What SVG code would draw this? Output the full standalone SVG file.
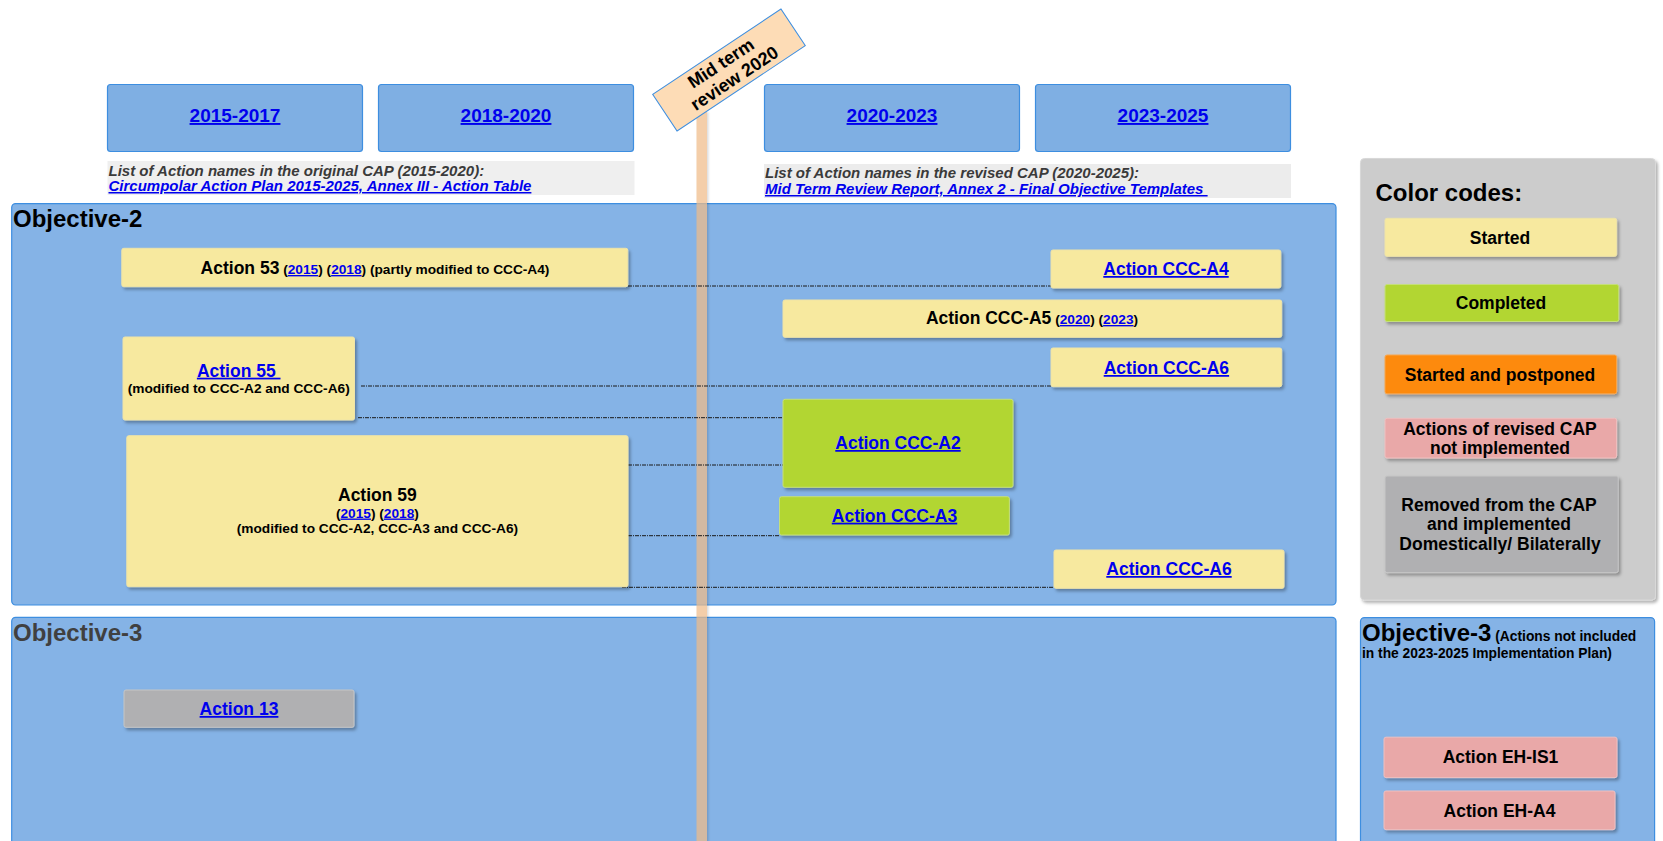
<svg xmlns="http://www.w3.org/2000/svg" width="1663" height="841" viewBox="0 0 1663 841">
<defs>
<filter id="sh" x="-10%" y="-20%" width="120%" height="150%"><feDropShadow dx="2" dy="2.5" stdDeviation="1.5" flood-color="#000" flood-opacity="0.3"/></filter>
<filter id="psh" x="-50%" y="-5%" width="200%" height="110%"><feDropShadow dx="1.5" dy="0" stdDeviation="1" flood-color="#000" flood-opacity="0.2"/></filter>
<style>
text{font-family:"Liberation Sans",Arial,sans-serif;font-weight:bold;}
.obj{fill:#85b3e6;stroke:#3d8ee0;stroke-width:1.2;}
.hdr{fill:#7fafe3;stroke:#3d8ee0;stroke-width:1.2;}
.y{fill:#f7e99f;stroke:#efe4a8;stroke-width:1;filter:url(#sh);}
.g{fill:#b2d633;stroke:#c5df7a;stroke-width:1;filter:url(#sh);}
.gr{fill:#b0b0b2;stroke:#c6c6c6;stroke-width:1;filter:url(#sh);}
.pk{fill:#e9a8a8;stroke:#efc0c0;stroke-width:1;filter:url(#sh);}
.or{fill:#fd8a0c;stroke:#f7a650;stroke-width:1;filter:url(#sh);}
.big{font-size:17.5px;fill:#000;}
.sm{font-size:13.7px;fill:#000;}
.c{text-anchor:middle;}
.sub{font-size:15px;font-style:italic;}
text.lnk,tspan.lnk{fill:#0000ee;text-decoration:underline;}
.conn line{stroke:#1a1a1a;stroke-width:1;stroke-dasharray:4 1 1 1;}
</style>
</defs>

<!-- header boxes -->
<g id="h2015"><rect class="hdr" x="107.5" y="84.5" width="255" height="67" rx="3"/><text class="lnk c" x="235" y="122" font-size="19">2015-2017</text></g>
<g id="h2018"><rect class="hdr" x="378.5" y="84.5" width="255" height="67" rx="3"/><text class="lnk c" x="506" y="122" font-size="19">2018-2020</text></g>
<g id="h2020"><rect class="hdr" x="764.5" y="84.5" width="255" height="67" rx="3"/><text class="lnk c" x="892" y="122" font-size="19">2020-2023</text></g>
<g id="h2023"><rect class="hdr" x="1035.5" y="84.5" width="255" height="67" rx="3"/><text class="lnk c" x="1163" y="122" font-size="19">2023-2025</text></g>

<!-- sub headers -->
<g id="subL"><rect x="107.5" y="161" width="527" height="34" fill="#efefef"/>
<text class="sub" x="108.5" y="175.5" fill="#3a3a3a">List of Action names in the original CAP (2015-2020):</text>
<text class="sub lnk" x="108.5" y="191">Circumpolar Action Plan 2015-2025, Annex III - Action Table</text></g>
<g id="subR"><rect x="764" y="164" width="527" height="34" fill="#ececec"/>
<text class="sub" x="765" y="178" fill="#3a3a3a">List of Action names in the revised CAP (2020-2025):</text>
<text class="sub lnk" x="765" y="194" xml:space="preserve">Mid Term Review Report, Annex 2 - Final Objective Templates </text></g>

<!-- objective panels -->
<g id="obj2"><rect class="obj" x="11.7" y="203.6" width="1324.3" height="401.4" rx="4"/><text x="13" y="227" font-size="24" fill="#000">Objective-2</text></g>
<g id="obj3"><rect class="obj" x="11.7" y="617.3" width="1324.3" height="240" rx="4"/><text x="13" y="641" font-size="24" fill="#404040">Objective-3</text></g>

<!-- legend -->
<g id="legend"><rect x="1360.5" y="158.5" width="295" height="441.5" rx="4" fill="#cccccc" stroke="#d8d8d8" filter="url(#sh)"/>
<text x="1375.5" y="200.5" font-size="24" fill="#000">Color codes:</text>
<rect class="y" x="1385" y="218.3" width="231.6" height="38" rx="2"/><text class="big c" x="1500" y="243.5">Started</text>
<rect class="g" x="1385" y="284.5" width="233.7" height="37" rx="2"/><text class="big c" x="1501" y="309">Completed</text>
<rect class="or" x="1385" y="355" width="231.6" height="38.8" rx="2"/><text class="big c" x="1500" y="381">Started and postponed</text>
<rect class="pk" x="1385" y="418.3" width="231.6" height="39.7" rx="2"/><text class="big c" x="1500" y="434.8">Actions of revised CAP</text><text class="big c" x="1500" y="453.6">not implemented</text>
<rect class="gr" x="1385" y="476" width="233.2" height="96.6" rx="2"/><text class="big c" x="1499" y="510.8">Removed from the CAP</text><text class="big c" x="1499" y="530">and implemented</text><text class="big c" x="1500" y="549.8">Domestically/ Bilaterally</text>
</g>

<g id="obj3r"><rect class="obj" x="1360.5" y="617.6" width="294.1" height="240" rx="4"/>
<text x="1362" y="640.5" font-size="24" fill="#000">Objective-3<tspan font-size="13.8"> (Actions not included</tspan></text>
<text x="1362" y="657.5" font-size="13.8" fill="#000">in the 2023-2025 Implementation Plan)</text></g>

<!-- pole -->
<g id="pole"><rect x="696.5" y="112" width="10.5" height="740" fill="#f0bc88" opacity="0.72" filter="url(#psh)"/></g>

<!-- connectors -->
<g class="conn" id="connectors">
<line x1="628" y1="286" x2="1051" y2="286"/>
<line x1="361" y1="386" x2="1051" y2="386"/>
<line x1="358" y1="417.7" x2="783" y2="417.7"/>
<line x1="628" y1="465" x2="783" y2="465"/>
<line x1="628" y1="535.7" x2="779.5" y2="535.7"/>
<line x1="622" y1="587.3" x2="1054" y2="587.3"/>
</g>

<!-- nodes -->
<g id="a53"><rect class="y" x="121.8" y="248.3" width="506" height="38.4" rx="2"/><text class="c" x="375" y="274"><tspan class="big">Action 53</tspan><tspan class="sm"> (<tspan class="lnk">2015</tspan>) (<tspan class="lnk">2018</tspan>) (partly modified to CCC-A4)</tspan></text></g>
<g id="ccca4"><rect class="y" x="1051" y="250" width="229.8" height="38" rx="2"/><text class="big lnk c" x="1166" y="275">Action CCC-A4</text></g>
<g id="ccca5"><rect class="y" x="783" y="300" width="498.7" height="37.3" rx="2"/><text class="c" x="1032" y="324"><tspan class="big">Action CCC-A5</tspan><tspan class="sm"> (<tspan class="lnk">2020</tspan>) (<tspan class="lnk">2023</tspan>)</tspan></text></g>
<g id="ccca6a"><rect class="y" x="1051" y="348" width="230.7" height="38.7" rx="2"/><text class="big lnk c" x="1166.4" y="374">Action CCC-A6</text></g>
<g id="a55"><rect class="y" x="123" y="337" width="231.5" height="83" rx="2"/><text class="big lnk c" x="238.7" y="376.7" xml:space="preserve">Action 55 </text><text class="sm c" x="238.7" y="393">(modified to CCC-A2 and CCC-A6)</text></g>
<g id="ccca2"><rect class="g" x="783" y="399.3" width="230" height="88" rx="2"/><text class="big lnk c" x="898" y="449">Action CCC-A2</text></g>
<g id="a59"><rect class="y" x="126.8" y="435.7" width="501.2" height="151" rx="2"/><text class="big c" x="377.4" y="501">Action 59</text><text class="sm c" x="377.4" y="517.5">(<tspan class="lnk">2015</tspan>) (<tspan class="lnk">2018</tspan>)</text><text class="sm c" x="377.4" y="533">(modified to CCC-A2, CCC-A3 and CCC-A6)</text></g>
<g id="ccca3"><rect class="g" x="779.5" y="496.7" width="229.9" height="38.3" rx="2"/><text class="big lnk c" x="894.5" y="521.7">Action CCC-A3</text></g>
<g id="ccca6b"><rect class="y" x="1054" y="550" width="230" height="38.3" rx="2"/><text class="big lnk c" x="1169" y="575">Action CCC-A6</text></g>
<g id="a13"><rect class="gr" x="124" y="690" width="230" height="37.3" rx="2"/><text class="big lnk c" x="239" y="715">Action 13</text></g>
<g id="ehis1"><rect class="pk" x="1384" y="737.2" width="233" height="40.4" rx="2"/><text class="big c" x="1500.5" y="763">Action EH-IS1</text></g>
<g id="eha4"><rect class="pk" x="1384" y="791" width="231" height="38.7" rx="2"/><text class="big c" x="1499.5" y="817">Action EH-A4</text></g>

<!-- mid-term sign -->
<g id="sign" transform="translate(729,70) rotate(-33.6)">
<rect x="-77" y="-22" width="154" height="44" fill="#fddcb6" stroke="#3d8ee0" stroke-width="1"/>
<text class="c" x="-3" y="-4" font-size="18" fill="#000">Mid term</text>
<text class="c" x="0" y="16" font-size="18" fill="#000">review 2020</text>
</g>
</svg>
